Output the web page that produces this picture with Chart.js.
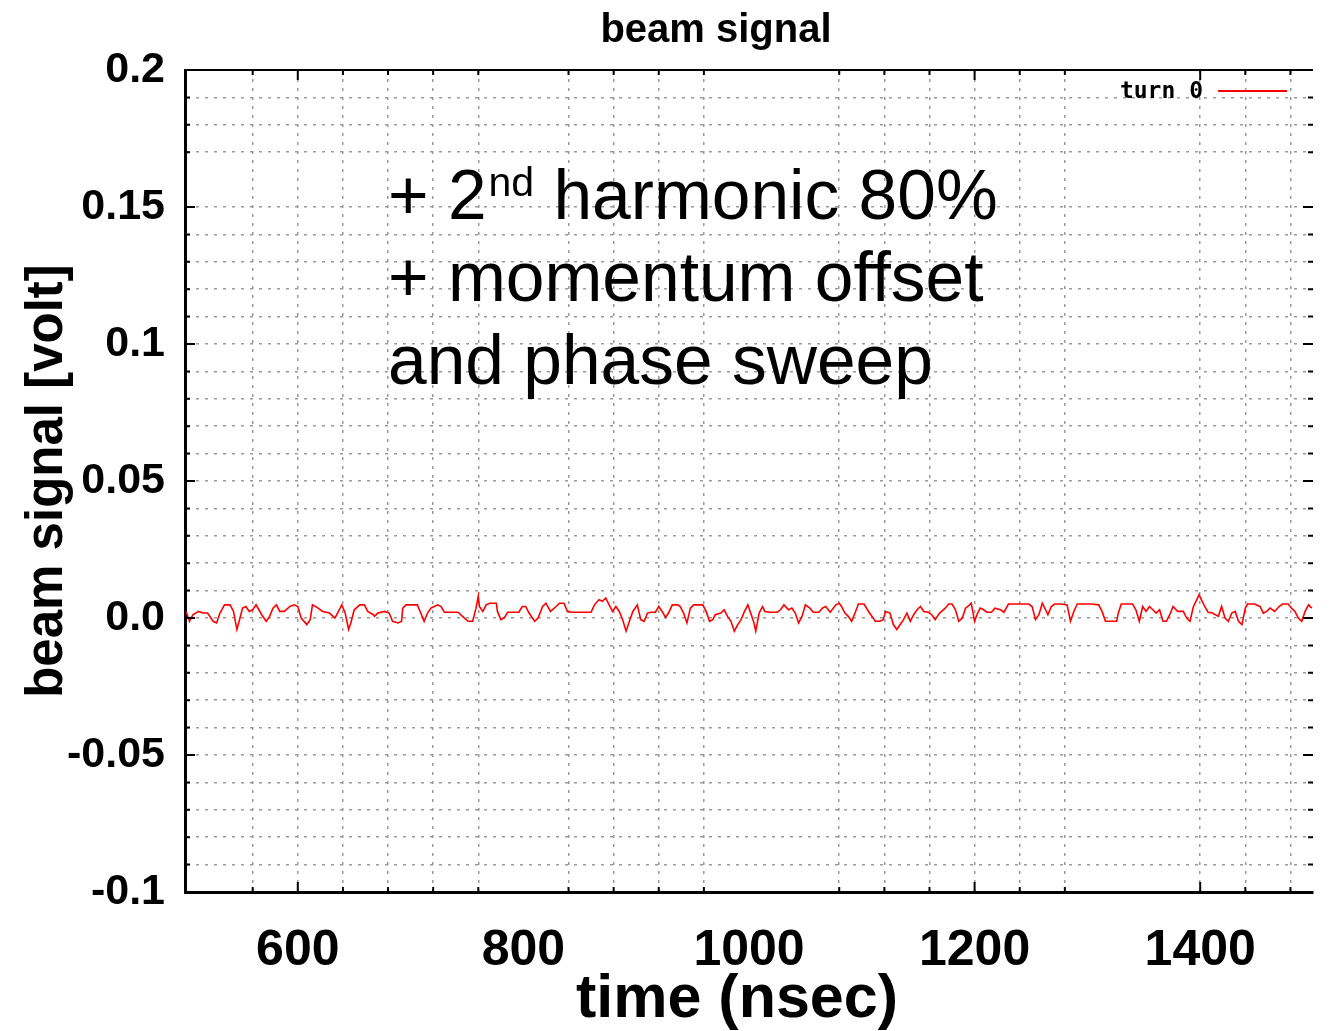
<!DOCTYPE html>
<html>
<head>
<meta charset="utf-8">
<title>beam signal</title>
<script src="https://cdn.jsdelivr.net/npm/chart.js@4/dist/chart.umd.min.js"></script>
<style>
  html, body { margin: 0; padding: 0; background: #fff; }
  #wrap { width: 1339px; height: 1031px; position: relative; }
</style>
</head>
<body>
<div id="wrap"><canvas id="beam"></canvas></div>
<script>
// turn 0 signal, [time ns, volt]
var turn0 = [
  [501, 0.0024], [504, -0.0012], [507, 0.0012], [512, 0.0024], [516, 0.0018], [520, 0.0018],
  [525, -0.0012], [528, -0.0018], [531, 0.0018], [535, 0.0048], [540, 0.0048], [543, 0.0024],
  [546, -0.0042], [548, -0.0012], [551, 0.0036], [554, 0.0042], [557, 0.0024], [560, 0.0030],
  [563, 0.0048], [568, 0.0012], [572, -0.0012], [575, 0.0006], [578, 0.0036], [581, 0.0048],
  [584, 0.0024], [588, 0.0024], [593, 0.0042], [597, 0.0048], [600, 0.0042], [603, 0.0000],
  [608, -0.0024], [611, -0.0006], [613, 0.0048], [618, 0.0036], [622, 0.0024], [628, 0.0018],
  [633, 0.0000], [636, 0.0024], [639, 0.0048], [642, 0.0018], [645, -0.0042], [647, -0.0018],
  [650, 0.0030], [655, 0.0048], [659, 0.0048], [662, 0.0024], [667, 0.0012],
  [668, 0.0006], [671, 0.0018], [677, 0.0024], [681, 0.0018], [684, -0.0012], [689, -0.0018],
  [692, -0.0012], [693, 0.0036], [696, 0.0048], [702, 0.0048], [706, 0.0048], [709, 0.0018],
  [712, -0.0012], [715, 0.0018], [718, 0.0036], [721, 0.0042], [724, 0.0048], [727, 0.0042],
  [730, 0.0021], [736, 0.0021], [742, 0.0021], [746, 0.0006], [751, -0.0012], [755, -0.0012],
  [758, 0.0036], [760, 0.0079], [761, 0.0042], [764, 0.0024], [767, 0.0048], [770, 0.0054],
  [776, 0.0054], [777, 0.0024], [780, -0.0006], [783, 0.0000], [786, 0.0021], [792, 0.0021],
  [796, 0.0021], [799, 0.0042], [802, 0.0042], [805, 0.0018], [810, -0.0012], [813, 0.0000],
  [817, 0.0042], [820, 0.0054], [824, 0.0024], [829, 0.0042],
  [832, 0.0054], [836, 0.0054], [839, 0.0024], [843, 0.0021], [849, 0.0021], [855, 0.0021],
  [860, 0.0021], [863, 0.0048], [867, 0.0067], [870, 0.0061], [873, 0.0073], [876, 0.0048],
  [879, 0.0024], [882, 0.0042], [885, 0.0024], [888, -0.0006], [891, -0.0048], [894, -0.0012],
  [897, 0.0024], [901, 0.0048], [904, -0.0006], [907, -0.0012], [910, 0.0018], [913, 0.0021],
  [917, 0.0021], [920, 0.0042], [923, 0.0024], [926, 0.0002], [929, 0.0021], [932, 0.0048],
  [937, 0.0048], [939, 0.0042], [942, 0.0018], [945, -0.0018], [948, 0.0036], [951, 0.0048],
  [956, 0.0048], [959, 0.0048], [962, 0.0024], [965, -0.0012], [968, -0.0006], [970, 0.0012],
  [975, 0.0018], [978, 0.0030], [981, 0.0006], [984, -0.0012], [987, -0.0048], [990, -0.0024],
  [993, -0.0006], [996, 0.0024], [999, 0.0048],
  [1001, 0.0024], [1004, -0.0012], [1006, -0.0048], [1009, 0.0018], [1012, 0.0042], [1014, 0.0024],
  [1019, 0.0021], [1025, 0.0021], [1028, 0.0030], [1031, 0.0048], [1035, 0.0030], [1038, 0.0036],
  [1041, 0.0018], [1044, -0.0018], [1047, 0.0006], [1050, 0.0048], [1054, 0.0036], [1057, 0.0021],
  [1062, 0.0021], [1065, 0.0036], [1068, 0.0042], [1072, 0.0021], [1077, 0.0048], [1080, 0.0054],
  [1082, 0.0042], [1085, 0.0018], [1088, 0.0006], [1091, -0.0012], [1094, 0.0018], [1097, 0.0051],
  [1102, 0.0051], [1105, 0.0030], [1108, 0.0012], [1112, -0.0012], [1116, -0.0012], [1119, -0.0006],
  [1121, 0.0024], [1125, 0.0018], [1128, -0.0024], [1131, -0.0042], [1134, -0.0024], [1137, -0.0006],
  [1140, 0.0018], [1143, -0.0012], [1146, 0.0012], [1149, 0.0030], [1152, 0.0042], [1155, 0.0024],
  [1159, 0.0021], [1162, 0.0012], [1165, -0.0006],
  [1169, 0.0018], [1174, 0.0036], [1177, 0.0051], [1180, 0.0051], [1183, 0.0030], [1186, -0.0012],
  [1189, 0.0000], [1192, 0.0036], [1194, 0.0042], [1197, 0.0054], [1200, -0.0012], [1202, 0.0012],
  [1205, 0.0036], [1208, 0.0030], [1211, 0.0021], [1215, 0.0021], [1218, 0.0036], [1223, 0.0030],
  [1226, 0.0021], [1230, 0.0051], [1236, 0.0051], [1242, 0.0051], [1248, 0.0051], [1251, 0.0042],
  [1254, -0.0006], [1257, 0.0012], [1260, 0.0054], [1263, 0.0030], [1265, 0.0012], [1268, 0.0042],
  [1271, 0.0051], [1277, 0.0051], [1282, 0.0048], [1285, -0.0012], [1288, 0.0024], [1291, 0.0051],
  [1296, 0.0051], [1304, 0.0051], [1310, 0.0048], [1313, 0.0024], [1316, -0.0012], [1320, -0.0012],
  [1326, -0.0012], [1327, 0.0012], [1330, 0.0051],
  [1332, 0.0051], [1336, 0.0051], [1340, 0.0051], [1343, 0.0030], [1346, -0.0012], [1349, 0.0042],
  [1352, 0.0024], [1355, 0.0042], [1358, 0.0030], [1361, 0.0018], [1364, 0.0030], [1367, -0.0012],
  [1370, -0.0012], [1373, 0.0012], [1376, 0.0042], [1380, 0.0024], [1385, 0.0024], [1388, 0.0000],
  [1391, -0.0012], [1394, 0.0042], [1397, 0.0067], [1399, 0.0085], [1401, 0.0067], [1404, 0.0042],
  [1407, 0.0021], [1411, 0.0018], [1416, 0.0006], [1419, 0.0042], [1422, 0.0000], [1425, -0.0012],
  [1428, 0.0018], [1431, 0.0024], [1434, -0.0012], [1437, -0.0024], [1440, 0.0036], [1442, 0.0051],
  [1448, 0.0051], [1453, 0.0042], [1456, 0.0018], [1459, 0.0024], [1462, 0.0036], [1466, 0.0024],
  [1470, 0.0042], [1473, 0.0051], [1478, 0.0051], [1481, 0.0036], [1484, 0.0024], [1487, 0.0000],
  [1490, -0.0012], [1493, 0.0024], [1496, 0.0048], [1499, 0.0036]
];

var xTickValues = [600, 800, 1000, 1200, 1400];
var xTickLabels = ['600', '800', '1000', '1200', '1400'];
var yTickValues = [-0.1, -0.05, 0, 0.05, 0.1, 0.15, 0.2];
var yTickLabels = ['-0.1', '-0.05', '0.0', '0.05', '0.1', '0.15', '0.2'];

// grid lines that are not there in the original picture
var xGridGaps = [500, 520, 800, 1000, 1040, 1320, 1360, 1500];
var yGridGaps = [-0.1, 0.16, 0.2];

var FONT = "'Liberation Sans', Arial, Helvetica, sans-serif";
var GRID = '#9a9a9a';

function near(list, v, eps) {
    for (var i = 0; i < list.length; i++) {
        if (Math.abs(list[i] - v) < eps) return i;
    }
    return -1;
}

var xGrid = [];
for (var t = 520; t <= 1480; t += 40) xGrid.push(t);
var yGrid = [];
for (var k = -10; k <= 20; k++) yGrid.push(k / 100);

// frame, inward tick marks, titles, legend and the note
var decor = {
    id: 'decor',
    afterDraw: function (chart) {
        var ctx = chart.ctx, a = chart.chartArea;
        var xs = chart.scales.x, ys = chart.scales.y;
        ctx.save();
        ctx.strokeStyle = '#000';
        ctx.lineWidth = 2;
        ctx.beginPath();
        ctx.moveTo(a.left, a.top);
        ctx.lineTo(a.right, a.top);
        ctx.stroke();

        yGrid.forEach(function (v) {
            if (v <= -0.1 || v >= 0.2) return;
            if (near(yGridGaps, v, 1e-6) >= 0) return;
            var py = ys.getPixelForValue(v);
            var len = near(yTickValues, v, 1e-6) >= 0 ? 10 : 5;
            ctx.beginPath();
            ctx.moveTo(a.left, py); ctx.lineTo(a.left + len, py);
            ctx.moveTo(a.right - len, py); ctx.lineTo(a.right, py);
            ctx.stroke();
        });
        xGrid.forEach(function (v) {
            if (near(xGridGaps, v, 0.5) >= 0) return;
            var px = xs.getPixelForValue(v);
            var len = near(xTickValues, v, 0.5) >= 0 ? 10 : 5;
            ctx.beginPath();
            ctx.moveTo(px, a.bottom); ctx.lineTo(px, a.bottom - len);
            ctx.moveTo(px, a.top); ctx.lineTo(px, a.top + len);
            ctx.stroke();
        });

        ctx.fillStyle = '#000';
        ctx.textAlign = 'center';
        ctx.textBaseline = 'middle';
        ctx.font = 'bold 40px ' + FONT;
        ctx.fillText('beam signal', 716, 31);

        ctx.font = 'bold 61px ' + FONT;
        ctx.fillText('time (nsec)', 737, 1000);

        // legend
        ctx.textAlign = 'right';
        ctx.font = 'bold 23px "DejaVu Sans Mono", monospace';
        ctx.fillText('turn 0', 1203, 92);
        ctx.strokeStyle = '#ff0000';
        ctx.lineWidth = 2;
        ctx.beginPath();
        ctx.moveTo(1218, 91); ctx.lineTo(1287, 91);
        ctx.stroke();

        // note
        ctx.textAlign = 'left';
        ctx.textBaseline = 'alphabetic';
        ctx.font = '69.5px ' + FONT;
        var x0 = 388;
        ctx.fillText('+ 2', x0, 219);
        var w = ctx.measureText('+ 2').width;
        ctx.font = '41px ' + FONT;
        ctx.fillText('nd', x0 + w + 2, 196);
        var w2 = ctx.measureText('nd').width;
        ctx.font = '69.5px ' + FONT;
        ctx.fillText(' harmonic 80%', x0 + w + w2 + 2, 219);
        ctx.fillText('+ momentum offset', x0, 301);
        ctx.fillText('and phase sweep', x0, 384);
        ctx.restore();
    }
};

var ctx = document.getElementById('beam');
var myChart = new Chart(ctx, {
    type: 'line',
    data: {
        datasets: [{
            label: 'turn 0',
            data: turn0.map(function (p) { return { x: p[0], y: p[1] }; }),
            borderColor: '#ff0000',
            borderWidth: 1.6,
            pointRadius: 0,
            tension: 0,
            fill: false
        }]
    },
    options: {
        responsive: true,
        maintainAspectRatio: false,
        animation: false,
        layout: { padding: { top: 70, right: 26, left: 0, bottom: 0 } },
        plugins: {
            legend: { display: false },
            title: { display: false },
            tooltip: { enabled: false }
        },
        scales: {
            x: {
                type: 'linear',
                min: 500,
                max: 1500,
                afterBuildTicks: function (s) {
                    s.ticks = xGrid.map(function (v) { return { value: v }; });
                },
                afterFit: function (s) { s.height = 139; },
                grid: {
                    drawTicks: false,
                    lineWidth: 1.5,
                    color: function (c) {
                        var v = c.tick ? c.tick.value : 0;
                        return near(xGridGaps, v, 0.5) >= 0 ? 'rgba(0,0,0,0)' : GRID;
                    }
                },
                border: { display: true, color: '#000', width: 3, dash: [3, 6] },
                ticks: {
                    autoSkip: false,
                    maxRotation: 0,
                    padding: 29,
                    color: '#000',
                    font: { family: FONT, size: 50, weight: 'bold' },
                    callback: function (v) {
                        var i = near(xTickValues, v, 0.5);
                        return i >= 0 ? xTickLabels[i] : '';
                    }
                },
                title: { display: false }
            },
            y: {
                type: 'linear',
                min: -0.1,
                max: 0.2,
                afterBuildTicks: function (s) {
                    s.ticks = yGrid.map(function (v) { return { value: v }; });
                },
                afterFit: function (s) { s.width = 185; },
                grid: {
                    drawTicks: false,
                    lineWidth: 1.5,
                    color: function (c) {
                        var v = c.tick ? c.tick.value : 0;
                        return near(yGridGaps, v, 1e-6) >= 0 ? 'rgba(0,0,0,0)' : GRID;
                    }
                },
                border: { display: true, color: '#000', width: 3, dash: [3, 6] },
                ticks: {
                    autoSkip: false,
                    padding: 20,
                    color: '#000',
                    font: { family: FONT, size: 43, weight: 'bold' },
                    callback: function (v) {
                        var i = near(yTickValues, v, 1e-6);
                        return i >= 0 ? yTickLabels[i] : '';
                    }
                },
                title: {
                    display: true,
                    text: 'beam signal [volt]',
                    color: '#000',
                    font: { family: FONT, size: 51, weight: 'bold', lineHeight: 1.2 },
                    padding: { top: 17, bottom: 0 }
                }
            }
        }
    },
    plugins: [decor]
});
</script>
</body>
</html>
